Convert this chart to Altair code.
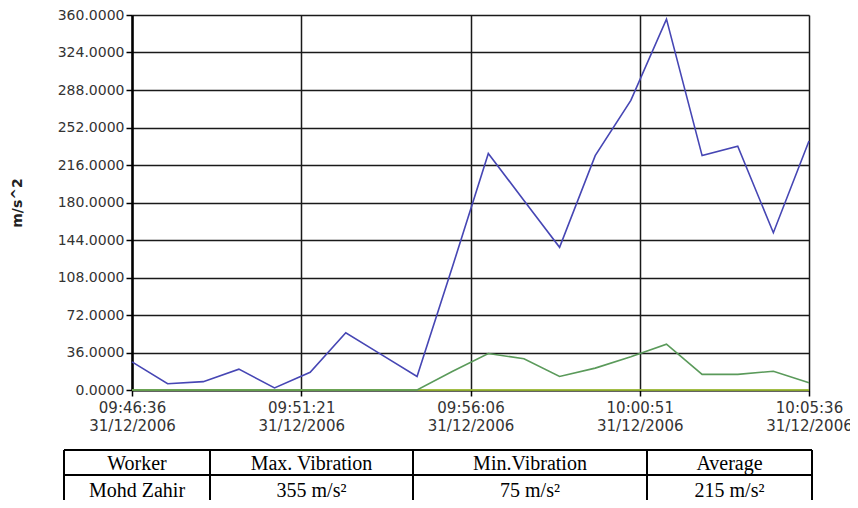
import altair as alt
import pandas as pd

# ---- data ----
date = "2006-12-31"
times = ["09:46:36", "09:47:36", "09:48:36", "09:49:36", "09:50:36",
         "09:51:36", "09:52:36", "09:53:36", "09:54:36", "09:55:36",
         "09:56:36", "09:57:36", "09:58:36", "09:59:36", "10:00:36",
         "10:01:36", "10:02:36", "10:03:36", "10:04:36", "10:05:36"]
blue_values = [27, 6, 8, 20, 2, 17, 55, 34, 13, 119,
               227, 182, 137, 225, 278, 356, 225, 234, 151, 239]
green_values = [0, 0, 0, 0, 0, 0, 0, 0, 0, 18,
                35, 30, 13, 21, 32, 44, 15, 15, 18, 7]
lime_values = [0, 0, 0, 0, 0, 0, 0, 0, 0, 0,
               0, 0, 0, 0, 0, 0, 0, 0, 0, 0]
tick_times = ["09:46:36", "09:51:21", "09:56:06", "10:00:51", "10:05:36"]
y_ticks = [0, 36, 72, 108, 144, 180, 216, 252, 288, 324, 360]

table_header = ["Worker", "Max. Vibration", "Min.Vibration", "Average"]
table_row = ["Mohd Zahir", "355 m/s²", "75 m/s²", "215 m/s²"]

# ---- layout (not data) ----
W, H = 677, 375
col_edges = [-68, 78, 281, 515, 680]
row_edges = [435, 460, 490]


def dt(t):
    h, m, s = [int(v) for v in t.split(":")]
    return alt.DateTime(year=2006, month=12, date=31, hours=h, minutes=m, seconds=s)


rows = []
for name, vals in [("lime", lime_values), ("green", green_values), ("blue", blue_values)]:
    for t, v in zip(times, vals):
        rows.append({"series": name, "time": f"{date}T{t}", "value": v})
df = pd.DataFrame(rows)

xscale = alt.Scale(domain=[dt(tick_times[0]), dt(tick_times[-1])], nice=False)
yscale = alt.Scale(domain=[0, 360], nice=False)

xaxis = alt.Axis(
    values=[dt(t) for t in tick_times],
    labelExpr="[timeFormat(datum.value, '%H:%M:%S'), timeFormat(datum.value, '%d/%m/%Y')]",
    title=None, grid=True, gridColor="#1a1a1a", gridWidth=1.5, gridOpacity=1,
    tickColor="black", tickSize=6, tickWidth=1.5,
    domainColor="black", domainWidth=2,
    labelFont="DejaVu Sans", labelFontSize=15, labelColor="#333333",
    labelLineHeight=18, labelPadding=4, labelAngle=0, labelOverlap=False,
    labelFlush=False,
)
yaxis = alt.Axis(
    values=y_ticks, format=".4f", title="m/s^2",
    grid=True, gridColor="#1a1a1a", gridWidth=1.5, gridOpacity=1,
    tickColor="black", tickSize=6, tickWidth=1.5,
    domainColor="black", domainWidth=2.5,
    labelFont="DejaVu Sans", labelFontSize=14, labelColor="#333333", labelPadding=2,
    titleFont="DejaVu Sans", titleFontSize=14, titleFontWeight="bold", titleColor="#222222",
    titleX=-115, titleY=H / 2, titleAngle=-90, titleAlign="center", titleBaseline="middle",
)

lines = alt.Chart(df).mark_line(strokeWidth=1.6).encode(
    x=alt.X("time:T", scale=xscale, axis=xaxis),
    y=alt.Y("value:Q", scale=yscale, axis=yaxis),
    color=alt.Color("series:N", scale=alt.Scale(domain=["lime", "green", "blue"],
                                                range=["#b8dc3c", "#5a9a5a", "#4646b4"]),
                    legend=None),
    order=alt.Order("time:T"),
    detail="series:N",
)

# ---- table ----
rule_rows = []
for yv in row_edges:
    rule_rows.append({"x": col_edges[0], "x2": col_edges[-1], "y": yv, "y2": yv})
for xv in col_edges:
    rule_rows.append({"x": xv, "x2": xv, "y": row_edges[0], "y2": row_edges[-1]})
rules_df = pd.DataFrame(rule_rows)

text_rows = []
for i in range(4):
    cx = (col_edges[i] + col_edges[i + 1]) / 2
    text_rows.append({"x": cx, "y": (row_edges[0] + row_edges[1]) / 2 + 1, "label": table_header[i]})
    text_rows.append({"x": cx, "y": (row_edges[1] + row_edges[2]) / 2 + 1, "label": table_row[i]})
text_df = pd.DataFrame(text_rows)

tx = alt.Scale(domain=[0, W], nice=False, zero=False)
ty = alt.Scale(domain=[0, H], reverse=True, nice=False, zero=False)

table_rules = alt.Chart(rules_df).mark_rule(color="black", strokeWidth=2).encode(
    x=alt.X("x:Q", scale=tx, axis=None),
    x2="x2:Q",
    y=alt.Y("y:Q", scale=ty, axis=None),
    y2="y2:Q",
)
table_text = alt.Chart(text_df).mark_text(
    font="Liberation Serif", fontSize=20, color="black", baseline="middle", align="center"
).encode(
    x=alt.X("x:Q", scale=tx, axis=None),
    y=alt.Y("y:Q", scale=ty, axis=None),
    text="label:N",
)
table = alt.layer(table_rules, table_text)

chart = alt.layer(lines, table).resolve_scale(x="independent", y="independent").properties(
    width=W, height=H,
    autosize=alt.AutoSizeParams(type="none"),
    padding={"left": 124, "top": 7, "right": 41, "bottom": 110},
).configure_view(stroke="black", strokeWidth=2.5).configure(background="white")

chart.save("out.html", embed_options={"renderer": "svg", "actions": False})
